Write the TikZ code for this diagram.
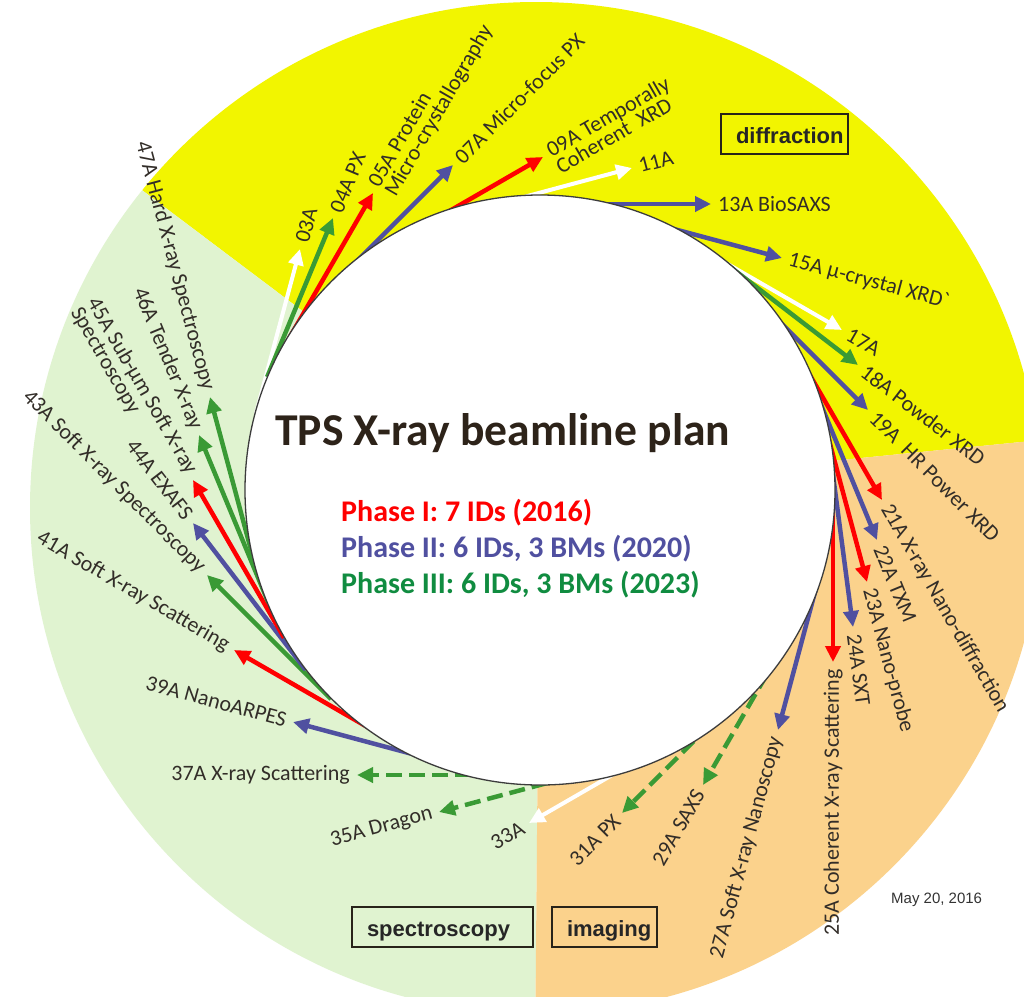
\documentclass[tikz,border=0pt]{standalone}
\usepackage{fontspec}
\setmainfont{Carlito}
\newfontfamily\arialfont{Liberation Sans}
\usetikzlibrary{arrows.meta}

\definecolor{diffyellow}{RGB}{242,245,0}
\definecolor{specgreen}{RGB}{224,243,208}
\definecolor{imgorange}{RGB}{251,210,140}
\definecolor{beamred}{RGB}{255,0,0}
\definecolor{beamblue}{RGB}{80,80,160}
\definecolor{beamgreen}{RGB}{58,154,53}
\definecolor{phasegreen}{RGB}{16,140,64}
\definecolor{labelgray}{RGB}{50,45,40}
\definecolor{titlebrown}{RGB}{45,35,25}
\definecolor{boxline}{RGB}{40,35,25}
\definecolor{ringline}{RGB}{60,60,60}

\tikzset{
  beam/.style={line width=4.5pt,-{Triangle[length=16pt,width=15pt]}},
  phaseI/.style={beam,draw=beamred},
  phaseII/.style={beam,draw=beamblue},
  phaseIII/.style={beam,draw=beamgreen},
  phaseIIIdash/.style={phaseIII,dash pattern=on 16pt off 7pt},
  spare/.style={beam,draw=white,line width=4pt},
  bllabel/.style={font=\fontsize{22}{19}\selectfont,text=labelgray,inner sep=0pt},
  twoline/.style={align=left,yshift=-7pt},
  sectorbox/.style={draw=boxline,line width=2pt,inner xsep=15pt,inner ysep=0pt,
    minimum height=40pt,text height=19pt,text depth=0pt,align=left,
    font=\arialfont\bfseries\fontsize{22}{24}\selectfont,text=black!85},
  phaseline/.style={font=\bfseries\fontsize{30}{33}\selectfont,anchor=base west,inner sep=0pt},
}

% one beamline: tangent direction from its port number, tip at (x,y) in pixels
% #1 extra label keys, #2 port, #3 x, #4 y, #5 arrow style, #6 label
\newcommand\beamline[6][]{%
  \pgfmathsetmacro\blAng{97.5-7.5*#2}%
  \pgfmathsetmacro\blS{(#3-540)*cos(\blAng)+(490-#4)*sin(\blAng)}%
  \pgfmathsetmacro\blFx{#3-\blS*cos(\blAng)}%
  \pgfmathsetmacro\blFy{-#4-\blS*sin(\blAng)}%
  \pgfmathsetmacro\blLx{#3+7*cos(\blAng)}%
  \pgfmathsetmacro\blLy{-#4+7*sin(\blAng)}%
  \pgfmathtruncatemacro\blSide{cos(\blAng)>0.01}%
  \coordinate (bf#2) at (\blFx,\blFy);%
  \coordinate (bt#2) at (#3,-#4);%
  \draw[#5] (bf#2) -- (bt#2);%
  \ifnum\blSide=1
    \node[bllabel,rotate=\blAng,anchor=west,#1] (bl#2) at (\blLx,\blLy) {#6};%
  \else
    \pgfmathsetmacro\blRot{\blAng+180}%
    \node[bllabel,rotate=\blRot,anchor=east,#1] (bl#2) at (\blLx,\blLy) {#6};%
  \fi
}

\begin{document}
\begin{tikzpicture}[x=1pt,y=1pt]
\useasboundingbox (0,0) rectangle (1024,-996);
\fill[white] (0,0) rectangle (1024,-996);

% coloured sectors of the outer disc
\begin{scope}
  \clip (0,0) rectangle (1024,-996);
  \clip (536,-508) circle (506);
  \fill[diffyellow] (540,-490) -- +(5.7:900) -- +(50:900) -- +(100:900) -- +(143:900) -- cycle;
  \fill[specgreen] (540,-490) -- +(143:900) -- +(180:900) -- +(225:900) -- +(269.5:900) -- cycle;
  \fill[imgorange] (540,-490) -- +(269.5:900) -- +(310:900) -- +(340:900) -- +(365.7:900) -- cycle;
\end{scope}

% beamlines
\beamline{3}{300}{249}{spare}{03A}
\beamline{4}{333}{218}{phaseIII}{04A PX}
\beamline[twoline]{5}{373}{193}{phaseI}{05A Protein\\Micro-crystallography}
\beamline{7}{453}{165}{phaseII}{07A Micro-focus PX}
\beamline[twoline]{9}{543}{157}{phaseI}{09A Temporally\\Coherent\ \ XRD}
\beamline{11}{632}{168}{spare}{11A}
\beamline{13}{711}{204}{phaseII}{13A BioSAXS}
\beamline{15}{782}{258}{phaseII}{15A μ-crystal XRD\textasciigrave}
\beamline{17}{842}{330}{spare}{17A}
\beamline{18}{858}{365}{phaseIII}{18A Powder XRD}
\beamline{19}{868}{410}{phaseII}{19A\ \ HR Power XRD}
\beamline{21}{882}{500}{phaseI}{21A X-ray Nano-diffraction}
\beamline{22}{877}{540}{phaseII}{22A TXM}
\beamline{23}{867}{582}{phaseI}{23A Nano-probe}
\beamline{24}{853}{627}{phaseII}{24A SXT}
\beamline{25}{833}{662}{phaseI}{25A Coherent X-ray Scattering}
\beamline{27}{778}{730}{phaseII}{27A Soft X-ray Nanoscopy}
\beamline{29}{703}{785}{phaseIIIdash}{29A SAXS}
\beamline{31}{622}{813}{phaseIIIdash}{31A PX}
\beamline{33}{529}{823}{spare}{33A}
\beamline{35}{439}{812}{phaseIIIdash}{35A Dragon}
\beamline{37}{357}{775}{phaseIIIdash}{37A X-ray Scattering}
\beamline{39}{293}{722}{phaseII}{39A NanoARPES}
\beamline{41}{234}{650}{phaseI}{41A Soft X-ray Scattering}
\beamline{43}{207}{575}{phaseIII}{43A Soft X-ray Spectroscopy}
\beamline{44}{193}{523}{phaseII}{44A EXAFS}
\beamline[twoline]{45}{193}{480}{phaseI}{45A Sub-μm Soft X-ray\\Spectroscopy}
\beamline{46}{199}{435}{phaseIII}{46A Tender X-ray}
\beamline{47}{210}{397}{phaseIII}{47A Hard X-ray Spectroscopy}

% storage ring
\node[circle,fill=white,draw=ringline,line width=1.3pt,minimum size=590pt,inner sep=0pt] (ring) at (540,-490) {};

% title and legend
\node[font=\bfseries\fontsize{45.6}{50}\selectfont,text=titlebrown,anchor=base west,inner sep=0pt] (title) at (275,-445) {TPS X-ray beamline plan};
\node[phaseline,text=beamred] (phase1) at (341,-521) {Phase I: 7 IDs (2016)};
\node[phaseline,text=beamblue] (phase2) at (341,-557) {Phase II: 6 IDs, 3 BMs (2020)};
\node[phaseline,text=phasegreen] (phase3) at (341,-593) {Phase III: 6 IDs, 3 BMs (2023)};

% technique boxes
\node[sectorbox,text width=97pt] (diff) at (784.5,-134) {\mbox{diffraction}};
\node[sectorbox,text width=151pt] (spec) at (442.5,-927) {\mbox{spectroscopy}};
\node[sectorbox,text width=75pt] (imag) at (604.5,-926.5) {\mbox{imaging}};

\node[font=\arialfont\fontsize{15}{18}\selectfont,text=black!80,anchor=base west,inner sep=0pt] (date) at (891,-903) {May 20, 2016};
\end{tikzpicture}
\end{document}
